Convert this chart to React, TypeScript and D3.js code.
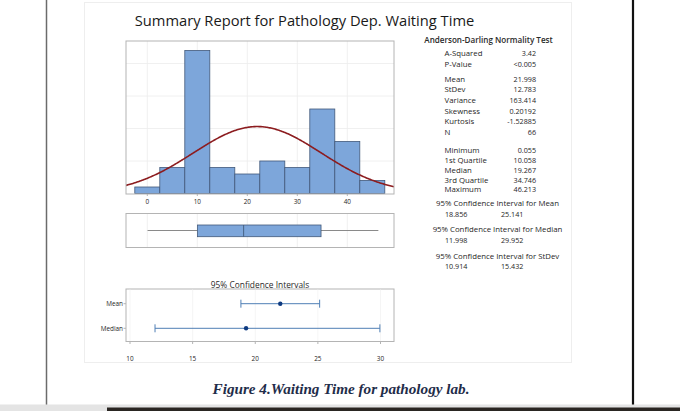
import React from "react";
import * as d3 from "d3";

const binCenters = [0, 5, 10, 15, 20, 25, 30, 35, 40, 45];
const binCounts = [1, 4, 22, 4, 3, 5, 4, 13, 8, 2];
const binWidth = 5;
const histTicks = [0, 10, 20, 30, 40];
const countGrid = [5, 10, 15, 20];

const mean = 21.998;
const stdev = 12.783;
const nObs = 66;

const boxMin = 0.055;
const boxQ1 = 10.058;
const boxMedian = 19.267;
const boxQ3 = 34.746;
const boxMax = 46.213;

const adLabels = ["A-Squared", "P-Value"];
const adValues = ["3.42", "<0.005"];
const momentLabels = ["Mean", "StDev", "Variance", "Skewness", "Kurtosis", "N"];
const momentValues = ["21.998", "12.783", "163.414", "0.20192", "-1.52885", "66"];
const quantLabels = ["Minimum", "1st Quartile", "Median", "3rd Quartile", "Maximum"];
const quantValues = ["0.055", "10.058", "19.267", "34.746", "46.213"];
const ciTitles = [
  "95% Confidence Interval for Mean",
  "95% Confidence Interval for Median",
  "95% Confidence Interval for StDev",
];
const ciLowText = ["18.856", "11.998", "10.914"];
const ciHighText = ["25.141", "29.952", "15.432"];

const ciRows = ["Mean", "Median"];
const ciLow = [18.856, 11.998];
const ciHigh = [25.141, 29.952];
const ciPoint = [21.998, 19.267];
const ciTicks = [10, 15, 20, 25, 30];

const FONT = "'Open Sans', 'Noto Sans', sans-serif";
const TXT = "#262626";
const BAR_FILL = "#7da6da";
const BAR_STROKE = "#41597a";
const FRAME = "#b4b4b4";
const GRID = "#ececec";
const LBL = 7.8;
const NUM = 7.2;

export default function App() {
  // histogram panel
  const hx = d3.scaleLinear().domain([0, 40]).range([147.3, 347.3]);
  const hL = 126, hR = 394, hT = 41, hB = 194;
  const hy = d3.scaleLinear().domain([0, 1]).range([193.5, 187]);
  const pdf = (x: number) =>
    (nObs * binWidth) / (stdev * Math.sqrt(2 * Math.PI)) *
    Math.exp(-0.5 * ((x - mean) / stdev) ** 2);
  const curveXs = d3.range(hx.invert(hL), hx.invert(hR) + 0.01, 0.2);
  const curve = d3
    .line<number>()
    .x((d) => hx(d))
    .y((d) => hy(pdf(d)))
    .curve(d3.curveLinear)(curveXs);

  // boxplot
  const bT = 213.5, bB = 247.5;
  const bMid = 230.5;

  // CI panel
  const cx = d3.scaleLinear().domain([10, 30]).range([130, 380.5]);
  const cL = 126, cR = 394, cT = 289, cB = 341.5;
  const cy = d3.scalePoint<string>().domain(ciRows).range([303.7, 328.3]);

  const statX = 444.5;
  const valX = 536;

  return (
    <svg
      width={680}
      height={411}
      style={{ position: "absolute", left: 0, top: 0, background: "#fff" }}
      fontFamily={FONT}
    >
      {/* page decorations */}
      <rect x={84.5} y={2.5} width={487} height={360} fill="none" stroke="#eeeeee" />
      <line x1={46.5} y1={0} x2={46.5} y2={405} stroke="#6b6b6b" strokeWidth={1.5} />
      <line x1={633} y1={0} x2={633} y2={405} stroke="#111" strokeWidth={2.2} />
      <rect x={0} y={404.5} width={680} height={7} fill="#e4e4e4" />
      <rect x={107} y={407.5} width={573} height={3.5} fill="#2a2622" />

      {/* title */}
      <text x={304.5} y={26} textAnchor="middle" fontSize={14.7} fill="#1a1a1a">
        Summary Report for Pathology Dep. Waiting Time
      </text>

      {/* histogram */}
      <rect x={hL} y={hT} width={hR - hL} height={hB - hT} fill="#fff" />
      {histTicks.map((t) => (
        <line key={"hg" + t} x1={hx(t)} x2={hx(t)} y1={hT} y2={hB} stroke={GRID} strokeWidth={0.8} />
      ))}
      {countGrid.map((c) => (
        <line key={"cg" + c} x1={hL} x2={hR} y1={hy(c)} y2={hy(c)} stroke={GRID} strokeWidth={0.8} />
      ))}
      {binCenters.map((c, i) => (
        <rect
          key={"bar" + i}
          x={hx(c - binWidth / 2)}
          y={hy(binCounts[i])}
          width={hx(c + binWidth / 2) - hx(c - binWidth / 2)}
          height={hy(0) - hy(binCounts[i])}
          fill={BAR_FILL}
          stroke={BAR_STROKE}
          strokeWidth={0.8}
        />
      ))}
      <clipPath id="hclip">
        <rect x={hL} y={hT} width={hR - hL} height={hB - hT} />
      </clipPath>
      <path d={curve || ""} fill="none" stroke="#8c1c1f" strokeWidth={1.6} clipPath="url(#hclip)" />
      <rect x={hL} y={hT} width={hR - hL} height={hB - hT} fill="none" stroke={FRAME} strokeWidth={1} />
      {histTicks.map((t) => (
        <g key={"ht" + t}>
          <line x1={hx(t)} x2={hx(t)} y1={hB} y2={hB + 2} stroke={FRAME} />
          <text x={hx(t)} y={203.5} textAnchor="middle" fontSize={6.4} fill={TXT}>
            {t}
          </text>
        </g>
      ))}

      {/* boxplot */}
      <rect x={hL} y={bT} width={hR - hL} height={bB - bT} fill="#fff" stroke={FRAME} strokeWidth={1} />
      {histTicks.map((t) => (
        <line key={"bg" + t} x1={hx(t)} x2={hx(t)} y1={bT + 0.5} y2={bB - 0.5} stroke={GRID} strokeWidth={0.8} />
      ))}
      <line x1={hx(boxMin)} x2={hx(boxQ1)} y1={bMid} y2={bMid} stroke="#8a8a8a" strokeWidth={1} />
      <line x1={hx(boxQ3)} x2={hx(boxMax)} y1={bMid} y2={bMid} stroke="#8a8a8a" strokeWidth={1} />
      <rect
        x={hx(boxQ1)}
        y={225}
        width={hx(boxQ3) - hx(boxQ1)}
        height={11.7}
        fill={BAR_FILL}
        stroke={BAR_STROKE}
        strokeWidth={0.8}
      />
      <line x1={hx(boxMedian)} x2={hx(boxMedian)} y1={225} y2={236.7} stroke={BAR_STROKE} strokeWidth={0.9} />

      {/* stats */}
      <text x={488.5} y={42.8} textAnchor="middle" fontSize={8.1} fontWeight={600} fill="#2a2a2a">
        Anderson-Darling Normality Test
      </text>
      {adLabels.map((l, i) => (
        <g key={"ad" + i}>
          <text x={statX} y={55.5 + i * 11} fontSize={LBL} fill={TXT}>{l}</text>
          <text x={valX} y={55.5 + i * 11} fontSize={NUM} textAnchor="end" fill={TXT}>{adValues[i]}</text>
        </g>
      ))}
      {momentLabels.map((l, i) => (
        <g key={"mo" + i}>
          <text x={statX} y={81.8 + i * 10.65} fontSize={LBL} fill={TXT}>{l}</text>
          <text x={valX} y={81.8 + i * 10.65} fontSize={NUM} textAnchor="end" fill={TXT}>{momentValues[i]}</text>
        </g>
      ))}
      {quantLabels.map((l, i) => (
        <g key={"qu" + i}>
          <text x={statX} y={152.8 + i * 9.9} fontSize={LBL} fill={TXT}>{l}</text>
          <text x={valX} y={152.8 + i * 9.9} fontSize={NUM} textAnchor="end" fill={TXT}>{quantValues[i]}</text>
        </g>
      ))}
      {ciTitles.map((t, i) => (
        <g key={"ci" + i}>
          <text x={497.5} y={205.6 + i * 26.5} textAnchor="middle" fontSize={LBL} fill={TXT}>{t}</text>
          <text x={445} y={217.2 + i * 25.8} fontSize={NUM} fill={TXT}>{ciLowText[i]}</text>
          <text x={501} y={217.2 + i * 25.8} fontSize={NUM} fill={TXT}>{ciHighText[i]}</text>
        </g>
      ))}

      {/* CI panel */}
      <text x={260} y={288} textAnchor="middle" fontSize={8.4} fill="#2a2a2a">
        95% Confidence Intervals
      </text>
      <rect x={cL} y={cT} width={cR - cL} height={cB - cT} fill="#fff" stroke={FRAME} strokeWidth={1} />
      {ciTicks.map((t) => (
        <line key={"cgl" + t} x1={cx(t)} x2={cx(t)} y1={cT + 0.5} y2={cB - 0.5} stroke="#f2f2f2" strokeWidth={0.8} />
      ))}
      {ciTicks.map((t) => (
        <g key={"ctk" + t}>
          <line x1={cx(t)} x2={cx(t)} y1={cB} y2={cB + 2.5} stroke={FRAME} />
          <text x={cx(t)} y={360.5} textAnchor="middle" fontSize={6.4} fill={TXT}>{t}</text>
        </g>
      ))}
      {ciRows.map((r, i) => {
        const y = cy(r) as number;
        return (
          <g key={"cr" + r}>
            <line x1={cL - 2.5} x2={cL} y1={y} y2={y} stroke={FRAME} />
            <text x={123} y={y + 2.2} textAnchor="end" fontSize={6.4} fill={TXT}>{r}</text>
            <line x1={cx(ciLow[i])} x2={cx(ciHigh[i])} y1={y} y2={y} stroke="#4f7fb5" strokeWidth={1} />
            <line x1={cx(ciLow[i])} x2={cx(ciLow[i])} y1={y - 4} y2={y + 4} stroke="#4f7fb5" strokeWidth={1} />
            <line x1={cx(ciHigh[i])} x2={cx(ciHigh[i])} y1={y - 4} y2={y + 4} stroke="#4f7fb5" strokeWidth={1} />
            <circle cx={cx(ciPoint[i])} cy={y} r={2.2} fill="#0e3a80" />
          </g>
        );
      })}

      {/* caption */}
      <text
        x={341}
        y={394}
        textAnchor="middle"
        fontFamily="'Liberation Serif', 'Times New Roman', serif"
        fontStyle="italic"
        fontWeight="bold"
        fontSize={15.2}
        fill="#1f2d4a"
      >
        Figure 4.Waiting Time for pathology lab.
      </text>
    </svg>
  );
}
